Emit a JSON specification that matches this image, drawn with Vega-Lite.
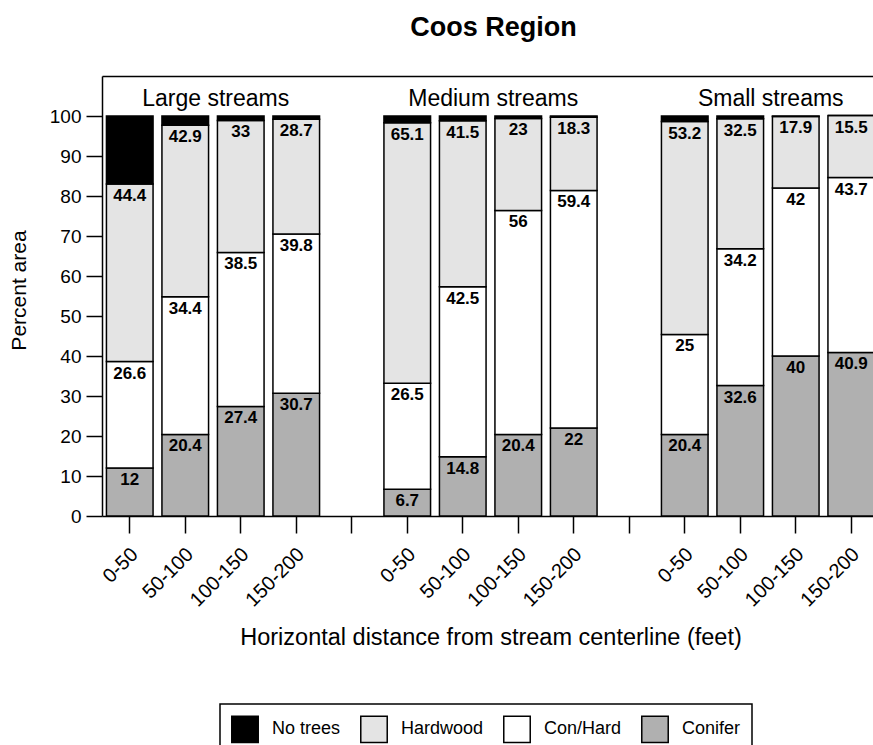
{
  "$schema": "https://vega.github.io/schema/vega-lite/v6.json",
  "width": 771,
  "height": 440,
  "autosize": {"type": "none"},
  "padding": {"left": 102, "top": 76, "right": 0, "bottom": 229},
  "background": "white",
  "config": {
    "font": "Liberation Sans",
    "view": {"stroke": null},
    "text": {"font": "Liberation Sans", "color": "black"}
  },
  "title": {
    "text": "Coos Region",
    "font": "Liberation Sans",
    "fontSize": 27,
    "fontWeight": "bold",
    "color": "black",
    "anchor": "middle",
    "offset": 34,
    "dx": 6
  },
  "resolve": {"axis": {"x": "independent"}},
  "datasets": {
    "cover": [
      {"slot": 0, "cat": "Conifer", "ord": 1, "val": 12},
      {"slot": 0, "cat": "Con/Hard", "ord": 2, "val": 26.6},
      {"slot": 0, "cat": "Hardwood", "ord": 3, "val": 44.4},
      {"slot": 0, "cat": "No trees", "ord": 4, "val": 17},
      {"slot": 1, "cat": "Conifer", "ord": 1, "val": 20.4},
      {"slot": 1, "cat": "Con/Hard", "ord": 2, "val": 34.4},
      {"slot": 1, "cat": "Hardwood", "ord": 3, "val": 42.9},
      {"slot": 1, "cat": "No trees", "ord": 4, "val": 2.3},
      {"slot": 2, "cat": "Conifer", "ord": 1, "val": 27.4},
      {"slot": 2, "cat": "Con/Hard", "ord": 2, "val": 38.5},
      {"slot": 2, "cat": "Hardwood", "ord": 3, "val": 33},
      {"slot": 2, "cat": "No trees", "ord": 4, "val": 1.1},
      {"slot": 3, "cat": "Conifer", "ord": 1, "val": 30.7},
      {"slot": 3, "cat": "Con/Hard", "ord": 2, "val": 39.8},
      {"slot": 3, "cat": "Hardwood", "ord": 3, "val": 28.7},
      {"slot": 3, "cat": "No trees", "ord": 4, "val": 0.8},
      {"slot": 5, "cat": "Conifer", "ord": 1, "val": 6.7},
      {"slot": 5, "cat": "Con/Hard", "ord": 2, "val": 26.5},
      {"slot": 5, "cat": "Hardwood", "ord": 3, "val": 65.1},
      {"slot": 5, "cat": "No trees", "ord": 4, "val": 1.7},
      {"slot": 6, "cat": "Conifer", "ord": 1, "val": 14.8},
      {"slot": 6, "cat": "Con/Hard", "ord": 2, "val": 42.5},
      {"slot": 6, "cat": "Hardwood", "ord": 3, "val": 41.5},
      {"slot": 6, "cat": "No trees", "ord": 4, "val": 1.2},
      {"slot": 7, "cat": "Conifer", "ord": 1, "val": 20.4},
      {"slot": 7, "cat": "Con/Hard", "ord": 2, "val": 56},
      {"slot": 7, "cat": "Hardwood", "ord": 3, "val": 23},
      {"slot": 7, "cat": "No trees", "ord": 4, "val": 0.6},
      {"slot": 8, "cat": "Conifer", "ord": 1, "val": 22},
      {"slot": 8, "cat": "Con/Hard", "ord": 2, "val": 59.4},
      {"slot": 8, "cat": "Hardwood", "ord": 3, "val": 18.3},
      {"slot": 8, "cat": "No trees", "ord": 4, "val": 0.3},
      {"slot": 10, "cat": "Conifer", "ord": 1, "val": 20.4},
      {"slot": 10, "cat": "Con/Hard", "ord": 2, "val": 25},
      {"slot": 10, "cat": "Hardwood", "ord": 3, "val": 53.2},
      {"slot": 10, "cat": "No trees", "ord": 4, "val": 1.4},
      {"slot": 11, "cat": "Conifer", "ord": 1, "val": 32.6},
      {"slot": 11, "cat": "Con/Hard", "ord": 2, "val": 34.2},
      {"slot": 11, "cat": "Hardwood", "ord": 3, "val": 32.5},
      {"slot": 11, "cat": "No trees", "ord": 4, "val": 0.7},
      {"slot": 12, "cat": "Conifer", "ord": 1, "val": 40},
      {"slot": 12, "cat": "Con/Hard", "ord": 2, "val": 42},
      {"slot": 12, "cat": "Hardwood", "ord": 3, "val": 17.9},
      {"slot": 12, "cat": "No trees", "ord": 4, "val": 0.1},
      {"slot": 13, "cat": "Conifer", "ord": 1, "val": 40.9},
      {"slot": 13, "cat": "Con/Hard", "ord": 2, "val": 43.7},
      {"slot": 13, "cat": "Hardwood", "ord": 3, "val": 15.5},
      {"slot": 13, "cat": "No trees", "ord": 4, "val": 0}
    ],
    "groups": [
      {"slot": 2, "label": "Large streams"},
      {"slot": 7, "label": "Medium streams"},
      {"slot": 12, "label": "Small streams"}
    ]
  },
  "layer": [
    {
      "data": {"name": "cover"},
      "transform": [
        {"stack": "val", "groupby": ["slot"], "sort": [{"field": "ord", "order": "ascending"}], "as": ["v0", "v1"]}
      ],
      "mark": {"type": "bar", "stroke": "black", "strokeWidth": 1.5},
      "encoding": {
        "x": {
          "field": "slot",
          "type": "ordinal",
          "scale": {"domain": [0, 1, 2, 3, 4, 5, 6, 7, 8, 9, 10, 11, 12, 13], "range": [0, 777], "paddingInner": 0.16, "paddingOuter": 0.08},
          "axis": {
            "orient": "bottom",
            "domainColor": "black",
            "domainWidth": 1.5,
            "tickColor": "black",
            "tickWidth": 1.5,
            "tickSize": 17,
            "labelExpr": "['0-50','50-100','100-150','150-200',''][datum.value % 5]",
            "labelAngle": -45,
            "labelAlign": "right",
            "labelBaseline": "middle",
            "labelFontSize": 20,
            "labelColor": "black",
            "labelPadding": 18,
            "labelOffset": 5,
            "labelOverlap": false,
            "labelFont": "Liberation Sans",
            "title": "Horizontal distance from stream centerline (feet)",
            "titleFont": "Liberation Sans",
            "titleFontSize": 23.5,
            "titleFontWeight": "normal",
            "titleColor": "black",
            "titleBaseline": "middle",
            "titleY": 121
          }
        },
        "y": {
          "field": "v0",
          "type": "quantitative",
          "scale": {"domain": [0, 110], "nice": false, "zero": true},
          "axis": {
            "values": [0, 5, 10, 15, 20, 25, 30, 35, 40, 45, 50, 55, 60, 65, 70, 75, 80, 85, 90, 95, 100, 105],
            "labelExpr": "datum.value % 10 === 0 ? datum.label : ''",
            "grid": false,
            "domainColor": "black",
            "domainWidth": 1.5,
            "tickColor": "black",
            "tickWidth": 1.5,
            "tickSize": {"condition": {"test": "datum.value % 10 === 0", "value": 16}, "value": 4},
            "labelFontSize": 19,
            "labelColor": "black",
            "labelFont": "Liberation Sans",
            "labelPadding": 5,
            "labelFlush": false,
            "labelOverlap": false,
            "title": "Percent area",
            "titleFont": "Liberation Sans",
            "titleFontSize": 21,
            "titleFontWeight": "normal",
            "titleColor": "black",
            "titleAngle": -90,
            "titleAlign": "center",
            "titleBaseline": "middle",
            "titleX": -83,
            "titleY": 214
          }
        },
        "y2": {"field": "v1"},
        "fill": {
          "field": "cat",
          "type": "nominal",
          "scale": {"domain": ["No trees", "Hardwood", "Con/Hard", "Conifer"], "range": ["#000000", "#e4e4e4", "#ffffff", "#b0b0b0"]},
          "legend": {
            "title": null,
            "orient": "none",
            "direction": "horizontal",
            "legendX": 118,
            "legendY": 628,
            "padding": 11,
            "strokeColor": "black",
            "fillColor": "white",
            "symbolType": "square",
            "symbolSize": 700,
            "symbolStrokeColor": "black",
            "symbolStrokeWidth": 1.5,
            "symbolOpacity": 1,
            "labelFont": "Liberation Sans",
            "labelFontSize": 18,
            "labelColor": "black",
            "labelOffset": 13,
            "columnPadding": 16,
            "encode": {"legend": {"update": {"strokeWidth": {"value": 1.5}}}}
          }
        }
      }
    },
    {
      "data": {"name": "cover"},
      "transform": [
        {"stack": "val", "groupby": ["slot"], "sort": [{"field": "ord", "order": "ascending"}], "as": ["v0", "v1"]},
        {"filter": "datum.cat !== 'No trees'"}
      ],
      "mark": {"type": "text", "baseline": "top", "align": "center", "dy": 4, "fontSize": 17, "fontWeight": "bold", "font": "Liberation Sans", "color": "black"},
      "encoding": {
        "x": {
          "field": "slot",
          "type": "ordinal",
          "axis": {"orient": "top", "domain": true, "domainColor": "black", "domainWidth": 1.5, "ticks": false, "labels": false, "title": null, "grid": false}
        },
        "y": {"field": "v1", "type": "quantitative"},
        "text": {"field": "val", "type": "nominal"}
      }
    },
    {
      "data": {"name": "groups"},
      "mark": {"type": "text", "baseline": "alphabetic", "align": "center", "dx": -25, "fontSize": 23, "font": "Liberation Sans", "color": "black"},
      "encoding": {
        "x": {"field": "slot", "type": "ordinal", "axis": null},
        "y": {"datum": 102.5},
        "text": {"field": "label", "type": "nominal"}
      }
    }
  ]
}
